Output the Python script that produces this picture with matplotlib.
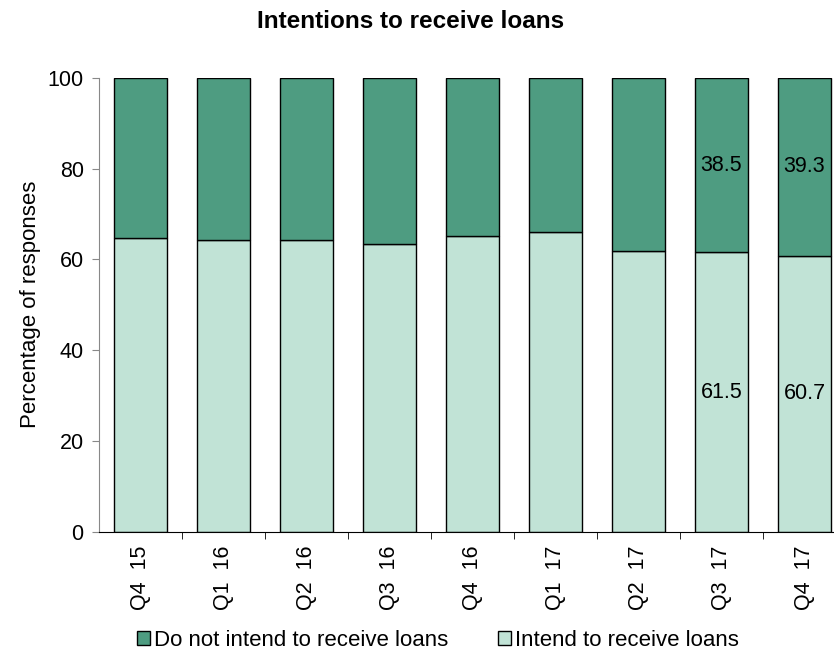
import numpy as np
import matplotlib.pyplot as plt

plt.rcParams["font.family"] = ["Liberation Sans", "DejaVu Sans"]

quarters = ["Q4 15", "Q1 16", "Q2 16", "Q3 16", "Q4 16", "Q1 17", "Q2 17", "Q3 17", "Q4 17"]
intend = [64.8, 64.3, 64.3, 63.4, 65.2, 66.0, 61.8, 61.5, 60.7]
not_intend = [100 - v for v in intend]
labelled = ["Q3 17", "Q4 17"]

DARK = "#4e9c81"
LIGHT = "#c1e3d6"

fig = plt.figure(figsize=(8.34, 6.54), dpi=100)
ax = fig.add_axes([99 / 834, 1 - 531.7 / 654, 747 / 834, 454 / 654])

x = np.arange(len(quarters))
w = 0.64
ax.bar(x, intend, w, color=LIGHT, edgecolor="black", lw=1.0, label="Intend to receive loans")
ax.bar(x, not_intend, w, bottom=intend, color=DARK, edgecolor="black", lw=1.0,
       label="Do not intend to receive loans")

for i, q in enumerate(quarters):
    if q in labelled:
        ax.text(i, intend[i] / 2, f"{intend[i]:.1f}", ha="center", va="center", fontsize=15.5)
        ax.text(i, intend[i] + not_intend[i] / 2, f"{not_intend[i]:.1f}",
                ha="center", va="center", fontsize=15.5)

ax.set_xlim(-0.5, len(quarters) - 0.5)
ax.set_ylim(0, 100)
ax.set_yticks(range(0, 101, 20))
ax.set_xticks(x)
ax.set_xticklabels([q.replace(" ", "  ") for q in quarters], rotation=90)
ax.set_xticks(np.arange(0.5, len(quarters) - 0.5, 1), minor=True)
ax.tick_params(axis="x", which="major", length=0, pad=10, labelsize=15.5)
ax.tick_params(axis="x", which="minor", length=5, color="black", direction="out")
ax.tick_params(axis="y", length=5, color="#888888", labelsize=15.5, pad=6)

for s in ["top", "right"]:
    ax.spines[s].set_visible(False)
ax.spines["left"].set_color("#888888")
ax.spines["bottom"].set_color("black")

ax.set_ylabel("Percentage of responses", fontsize=16, labelpad=5)
fig.text(411 / 834, 1 - 22 / 654, "Intentions to receive loans", ha="center", va="center",
         fontsize=17.5, fontweight="bold")

handles, labels = ax.get_legend_handles_labels()
fig.legend(handles[::-1], labels[::-1], loc="center", bbox_to_anchor=(438 / 834, 1 - 640 / 654),
           ncol=2, frameon=False, fontsize=16, handlelength=0.6, handleheight=0.6,
           handletextpad=0.2, columnspacing=2.2, borderaxespad=0)

fig.savefig("out.png", dpi=100)
